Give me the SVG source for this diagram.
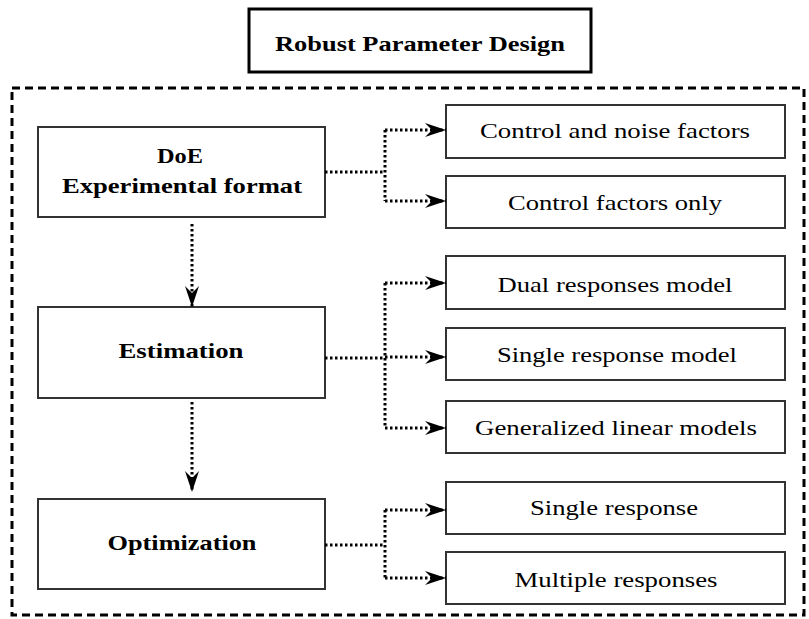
<svg xmlns="http://www.w3.org/2000/svg" width="809" height="619" viewBox="0 0 809 619">
<style>
.box{fill:#fff;stroke:#333;stroke-width:2}
.title{fill:#fff;stroke:#000;stroke-width:3}
.outer{fill:none;stroke:#000;stroke-width:3;stroke-dasharray:8 5}
.con{fill:none;stroke:#000;stroke-width:3;stroke-dasharray:2.5 2.5}
.tb{font-family:"Liberation Serif","Times New Roman",serif;font-weight:bold;font-size:22px;fill:#000;text-anchor:middle}
.tr{font-family:"Liberation Serif","Times New Roman",serif;font-size:22px;fill:#000;text-anchor:middle}
</style>
<defs>
<marker id="ah" markerUnits="userSpaceOnUse" viewBox="0 0 22 16" markerWidth="22" markerHeight="16" refX="21" refY="8" orient="auto">
<path d="M0,1 L21,8 L0,15 L7,8 Z" fill="#000"/>
</marker>
</defs>
<rect class="outer" x="12" y="88" width="792" height="527"/>
<g id="title">
<rect class="title" x="249" y="9" width="342" height="63"/>
<text class="tb" x="420" y="51" textLength="290" lengthAdjust="spacingAndGlyphs">Robust Parameter Design</text>
</g>
<g id="doe">
<rect class="box" x="38" y="127" width="287" height="90"/>
<text class="tb" x="180" y="163" textLength="46" lengthAdjust="spacingAndGlyphs">DoE</text>
<text class="tb" x="182" y="193" textLength="240" lengthAdjust="spacingAndGlyphs">Experimental format</text>
</g>
<g id="estimation">
<rect class="box" x="38" y="307" width="287" height="91"/>
<text class="tb" x="181" y="358" textLength="125" lengthAdjust="spacingAndGlyphs">Estimation</text>
</g>
<g id="optimization">
<rect class="box" x="38" y="499" width="287" height="90"/>
<text class="tb" x="182" y="550" textLength="149" lengthAdjust="spacingAndGlyphs">Optimization</text>
</g>
<g id="control-noise">
<rect class="box" x="446" y="105" width="339" height="53"/>
<text class="tr" x="615" y="138" textLength="270" lengthAdjust="spacingAndGlyphs">Control and noise factors</text>
</g>
<g id="control-only">
<rect class="box" x="446" y="176" width="339" height="52"/>
<text class="tr" x="615" y="210" textLength="214" lengthAdjust="spacingAndGlyphs">Control factors only</text>
</g>
<g id="dual">
<rect class="box" x="446" y="256" width="339" height="53"/>
<text class="tr" x="615" y="292" textLength="235" lengthAdjust="spacingAndGlyphs">Dual responses model</text>
</g>
<g id="single-model">
<rect class="box" x="446" y="328" width="339" height="52"/>
<text class="tr" x="617" y="362" textLength="240" lengthAdjust="spacingAndGlyphs">Single response model</text>
</g>
<g id="glm">
<rect class="box" x="446" y="401" width="339" height="52"/>
<text class="tr" x="616" y="435" textLength="282" lengthAdjust="spacingAndGlyphs">Generalized linear models</text>
</g>
<g id="single-response">
<rect class="box" x="446" y="482" width="339" height="52"/>
<text class="tr" x="614" y="515" textLength="168" lengthAdjust="spacingAndGlyphs">Single response</text>
</g>
<g id="multiple">
<rect class="box" x="446" y="552" width="339" height="52"/>
<text class="tr" x="616" y="587" textLength="203" lengthAdjust="spacingAndGlyphs">Multiple responses</text>
</g>
<g id="connectors">
<path class="con" d="M192,224 L192,307" marker-end="url(#ah)"/>
<path class="con" d="M192,402 L192,492" marker-end="url(#ah)"/>
<path class="con" d="M325,172 L385,172"/>
<path class="con" d="M385,130 L385,201"/>
<path class="con" d="M385,130 L446,130" marker-end="url(#ah)"/>
<path class="con" d="M385,201 L446,201" marker-end="url(#ah)"/>
<path class="con" d="M325,358 L385,358"/>
<path class="con" d="M385,283 L385,428"/>
<path class="con" d="M385,283 L446,283" marker-end="url(#ah)"/>
<path class="con" d="M385,357 L446,357" marker-end="url(#ah)"/>
<path class="con" d="M385,428 L446,428" marker-end="url(#ah)"/>
<path class="con" d="M325,545 L385,545"/>
<path class="con" d="M385,510 L385,578"/>
<path class="con" d="M385,510 L446,510" marker-end="url(#ah)"/>
<path class="con" d="M385,578 L446,578" marker-end="url(#ah)"/>
</g>
</svg>
